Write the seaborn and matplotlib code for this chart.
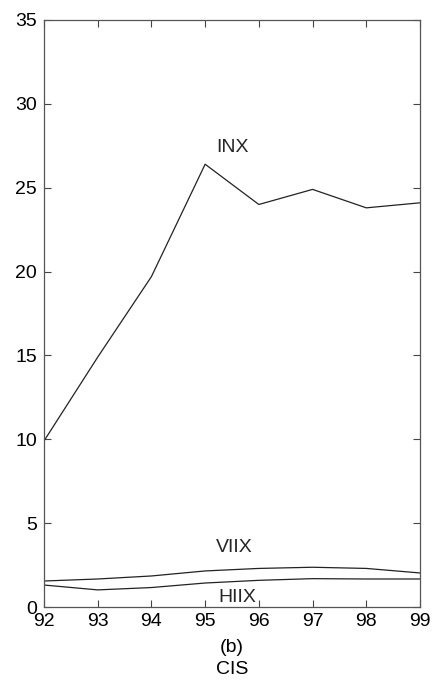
import matplotlib
matplotlib.use("Agg")
import matplotlib.pyplot as plt
import seaborn as sns
import pandas as pd

years = [92, 93, 94, 95, 96, 97, 98, 99]
inx = [9.9, 14.9, 19.7, 26.4, 24.0, 24.9, 23.8, 24.1]
viix = [1.55, 1.67, 1.85, 2.15, 2.3, 2.37, 2.3, 2.03]
hiix = [1.31, 1.02, 1.16, 1.43, 1.59, 1.69, 1.67, 1.67]
series_names = ["INX", "VIIX", "HIIX"]
yticks = [0, 5, 10, 15, 20, 25, 30, 35]

sns.set_theme(style="ticks")
plt.rcParams['font.family'] = ['Liberation Sans', 'DejaVu Sans']

df = pd.DataFrame({"year": years * 3,
                   "value": inx + viix + hiix,
                   "series": [s for s in series_names for _ in years]})

fig = plt.figure(figsize=(4.35, 6.86), dpi=100)
ax = fig.add_axes([44/435, 79/686, 376/435, 587/686])
sns.lineplot(data=df, x="year", y="value", units="series", estimator=None,
             color="#222222", linewidth=0.9, ax=ax, legend=False)

ax.set_xlim(92, 99)
ax.set_ylim(0, 35)
ax.set_xticks(years)
ax.set_xticklabels([str(y) for y in years])
ax.set_yticks(yticks)
ax.tick_params(direction="in", top=True, right=True, labelsize=14,
               length=5, width=0.8, color="#444444", labelcolor="black")
ax.tick_params(axis="x", pad=4)
ax.tick_params(axis="y", pad=5)
for s in ax.spines.values():
    s.set_linewidth(0.9)
    s.set_color("#555555")
ax.set_xlabel("(b)\nCIS", fontsize=14, labelpad=7, linespacing=1.35, color="black")
ax.set_ylabel("")

ax.text(95.5, 26.9, "INX", fontsize=14, ha="center", va="bottom")
ax.text(95.55, 3.05, "VIIX", fontsize=14, ha="center", va="bottom")
ax.text(95.6, 0.05, "HIIX", fontsize=14, ha="center", va="bottom")

fig.savefig("out.png", dpi=100, facecolor="white")
